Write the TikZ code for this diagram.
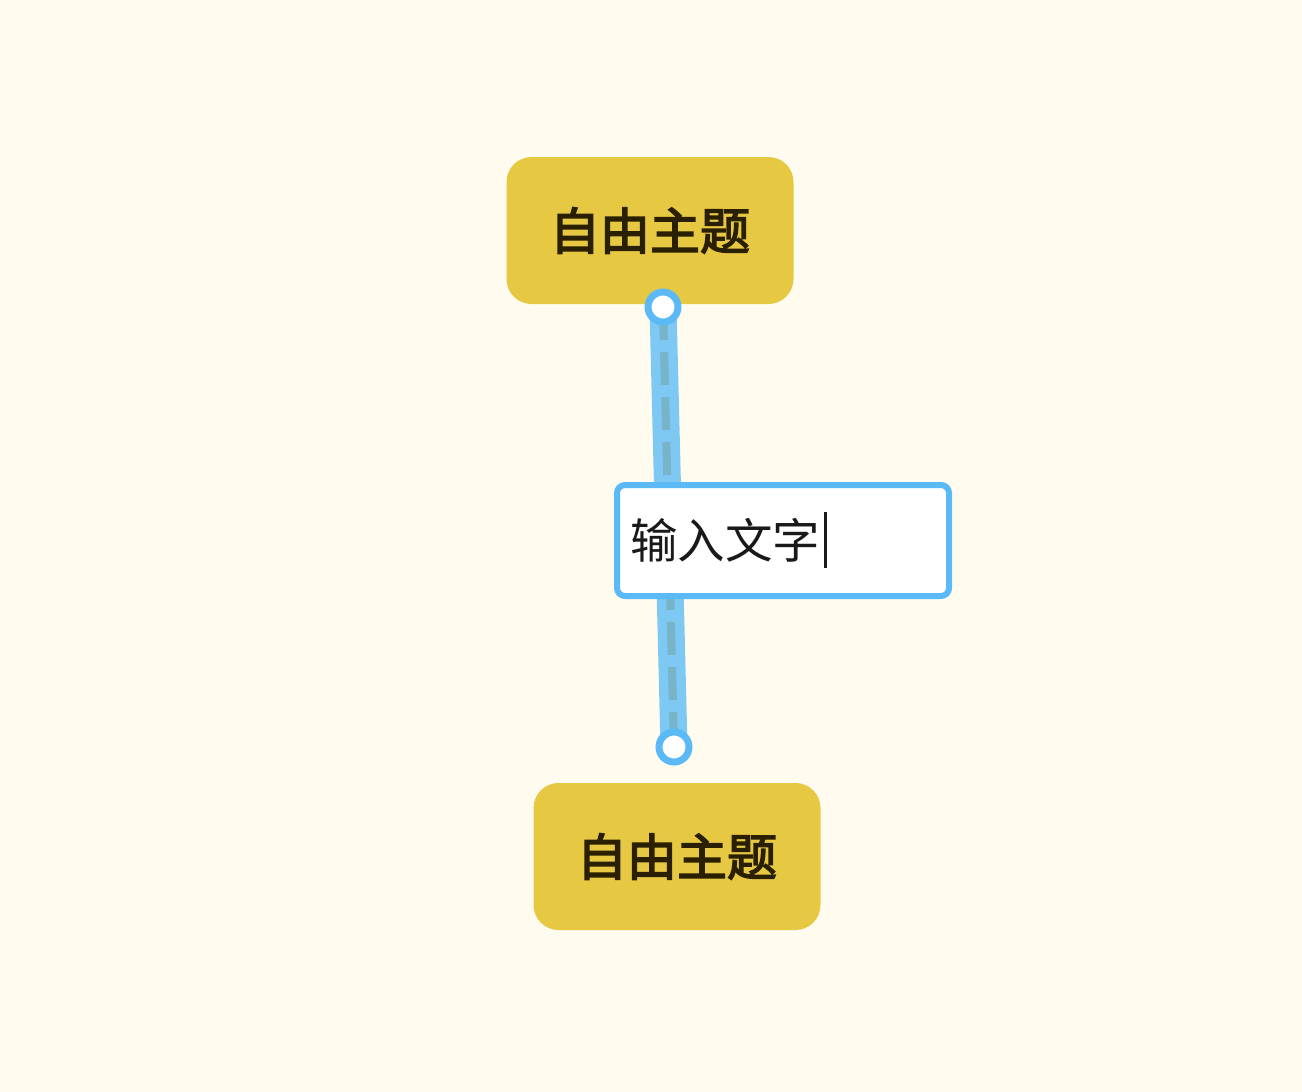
\documentclass[tikz,border=0pt]{standalone}
\usepackage{fontspec}
\newfontfamily\cjk{Noto Sans CJK SC}
\newfontfamily\cjkmed[FakeBold=3]{Noto Sans CJK SC}
\definecolor{bgc}{HTML}{FFFCEF}
\definecolor{topicc}{HTML}{E6C843}
\definecolor{topictext}{HTML}{2A2000}
\definecolor{linec}{HTML}{7EC8F4}
\definecolor{dashc}{HTML}{78B4C8}
\definecolor{selc}{HTML}{5BBAF5}
\tikzset{
  topic/.style={fill=topicc, rounded corners=25pt, minimum width=287pt, minimum height=147pt,
    inner sep=0pt, text=topictext, font=\cjkmed\fontsize{50}{60}\selectfont},
  labelbox/.style={draw=selc, line width=6pt, fill=white, rounded corners=8pt,
    minimum width=332pt, minimum height=111pt, inner sep=0pt},
  labeltext/.style={inner sep=0pt, text=black!90, font=\cjk\fontsize{47.5}{56}\selectfont},
  endpt/.style={circle, draw=selc, line width=7pt, fill=white, minimum size=30pt, inner sep=0pt},
  relline/.style={line width=27pt, draw=linec},
  reldash/.style={line width=8pt, draw=dashc, dash pattern=on 33pt off 12pt},
}
\begin{document}
\begin{tikzpicture}[x=1pt,y=-1pt]
\fill[bgc] (0,0) rectangle (1302,1092);
\useasboundingbox (0,0) rectangle (1302,1092);
\node[topic] (t1) at (650,230.5) {自由主题};
\node[topic] (t2) at (677,856.5) {自由主题};
\coordinate (p1) at (663,307);
\coordinate (p2) at (674,747);
\draw[relline] (p1) -- (p2);
\draw[reldash] (p1) -- (p2);
\node[labelbox] (lb) at (783,540.5) {};
\node[labeltext, anchor=west] (lt) at (630,540) {输入文字};
\draw[line width=2.5pt, black!90] ([xshift=5pt]lt.east |- 0,512) coordinate (k1) -- ([xshift=5pt]lt.east |- 0,568) coordinate (k2);
\node[endpt] (c1) at (p1) {};
\node[endpt] (c2) at (p2) {};
\end{tikzpicture}
\end{document}
